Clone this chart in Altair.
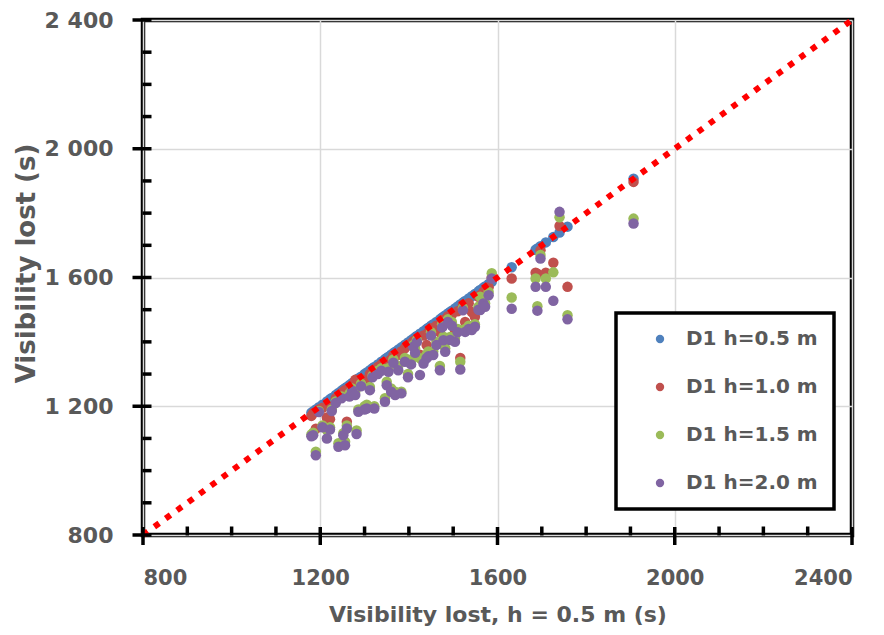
import altair as alt
import pandas as pd

# x: visibility lost at h = 0.5 m (s); also the y of series "D1 h=0.5 m"
x_h05 = [1180, 1184, 1190, 1197, 1205, 1215, 1222, 1226, 1235, 1241, 1248, 1252, 1256, 1260,
         1266, 1272, 1279, 1282, 1286, 1292, 1300, 1305, 1312, 1318, 1322, 1330, 1338, 1346,
         1350, 1354, 1360, 1365, 1369, 1376, 1383, 1391, 1398, 1405, 1410, 1414, 1418, 1425,
         1433, 1440, 1444, 1450, 1455, 1462, 1470, 1475, 1478, 1482, 1488, 1493, 1497, 1504,
         1510, 1516, 1522, 1527, 1535, 1542, 1549, 1557, 1561, 1568, 1572, 1580, 1587, 1632,
         1686, 1690, 1697, 1709, 1726, 1740, 1758, 1907]
y_h10 = [1170, 1178, 1130, 1190, 1195, 1165, 1160, 1197, 1225, 1232, 1240, 1245, 1250, 1152,
         1258, 1265, 1282, 1270, 1280, 1285, 1280, 1271, 1300, 1310, 1310, 1322, 1330, 1330,
         1322, 1340, 1345, 1358, 1355, 1360, 1370, 1380, 1390, 1395, 1402, 1400, 1410, 1360,
         1420, 1390, 1430, 1442, 1440, 1450, 1430, 1468, 1465, 1470, 1480, 1480, 1485, 1437,
         1495, 1350, 1515, 1462, 1520, 1493, 1478, 1540, 1545, 1555, 1560, 1570, 1600, 1597,
         1615, 1612, 1685, 1615, 1646, 1760, 1571, 1897]
y_h15 = [1112, 1118, 1059, 1185, 1140, 1126, 1135, 1190, 1215, 1085, 1230, 1116, 1090, 1140,
         1240, 1255, 1246, 1125, 1190, 1270, 1200, 1205, 1260, 1295, 1200, 1310, 1318, 1225,
         1276, 1318, 1255, 1345, 1245, 1325, 1245, 1350, 1300, 1345, 1390, 1380, 1405, 1349,
         1345, 1360, 1370, 1430, 1370, 1400, 1325, 1455, 1416, 1380, 1470, 1415, 1462, 1410,
         1440, 1338, 1505, 1440, 1450, 1445, 1455, 1509, 1540, 1525, 1520, 1555, 1613, 1538,
         1597, 1511, 1670, 1597, 1616, 1787, 1483, 1783]
y_h20 = [1107, 1110, 1048, 1182, 1135, 1100, 1128, 1185, 1210, 1074, 1225, 1110, 1079, 1131,
         1230, 1248, 1235, 1114, 1183, 1262, 1190, 1193, 1250, 1290, 1193, 1300, 1310, 1214,
         1265, 1307, 1245, 1335, 1235, 1312, 1240, 1338, 1290, 1330, 1385, 1366, 1400, 1297,
         1333, 1349, 1355, 1420, 1359, 1390, 1312, 1445, 1405, 1369, 1462, 1406, 1450, 1400,
         1430, 1314, 1498, 1431, 1440, 1437, 1447, 1500, 1499, 1519, 1509, 1545, 1597, 1503,
         1571, 1497, 1659, 1571, 1528, 1804, 1470, 1768]

series_names = ["D1 h=0.5 m", "D1 h=1.0 m", "D1 h=1.5 m", "D1 h=2.0 m"]
series_colors = ["#4F81BD", "#C0504D", "#9BBB59", "#8064A2"]

major_ticks = [800, 1200, 1600, 2000, 2400]
minor_ticks = [900, 1000, 1100, 1300, 1400, 1500, 1700, 1800, 1900, 2100, 2200, 2300]
diag_values = [800, 2400]

X_TITLE = "Visibility lost, h = 0.5 m (s)"
Y_TITLE = "Visibility lost (s)"
FONT = "DejaVu Sans"
TXT = "#595959"

rows = []
for name, ys in zip(series_names, [x_h05, y_h10, y_h15, y_h20]):
    for xv, yv in zip(x_h05, ys):
        rows.append({"x": xv, "y": yv, "series": name})
pts_df = pd.DataFrame(rows)

xscale = alt.Scale(domain=[800, 2400], nice=False, zero=False)
yscale = alt.Scale(domain=[800, 2400], nice=False, zero=False)

xaxis = alt.Axis(values=major_ticks, format="d", ticks=False, domain=False, grid=True,
                 gridColor="#D9D9D9", gridWidth=1.5, labelFont=FONT, labelFontSize=21,
                 labelFontWeight="bold", labelColor=TXT, labelPadding=32,
                 titleFont=FONT, titleFontSize=22, titleFontWeight="bold", titleColor=TXT,
                 titlePadding=16)
yaxis = alt.Axis(values=major_ticks, ticks=False, domain=False, grid=True,
                 gridColor="#D9D9D9", gridWidth=1.5, labelFont=FONT, labelFontSize=22,
                 labelFontWeight="bold", labelColor=TXT, labelPadding=30,
                 labelExpr="replace(format(datum.value, ','), ',', ' ')",
                 titleFont=FONT, titleFontSize=26, titleFontWeight="bold", titleColor=TXT,
                 titlePadding=5, titleY=243)


def X(field="x"):
    return alt.X(f"{field}:Q", scale=xscale, axis=xaxis, title=X_TITLE)


def Y(field="y"):
    return alt.Y(f"{field}:Q", scale=yscale, axis=yaxis, title=Y_TITLE)


points = alt.Chart(pts_df).mark_circle(size=110, opacity=1).encode(
    x=X(), y=Y(),
    color=alt.Color("series:N", scale=alt.Scale(domain=series_names, range=series_colors),
                    sort=series_names,
                    legend=alt.Legend(title=None, orient="none", legendX=473, legendY=293,
                                      fillColor="white", strokeColor="black",
                                      padding=16, symbolType="circle", symbolSize=70,
                                      symbolOffset=18, labelOffset=16, rowPadding=28,
                                      labelFont=FONT, labelFontSize=20,
                                      labelFontWeight="bold", labelColor=TXT)),
)

diag = alt.Chart(pd.DataFrame({"x": diag_values, "y": diag_values})).mark_line(
    color="#FF0000", strokeWidth=6, strokeDash=[6, 8], strokeCap="butt").encode(x=X(), y=Y())

xmaj = alt.Chart(pd.DataFrame({"x": major_ticks})).mark_tick(
    orient="vertical", size=18, thickness=3.5, color="black", opacity=1, yOffset=1).encode(
    x=X(), y=alt.datum(800, scale=yscale))
xmin = alt.Chart(pd.DataFrame({"x": minor_ticks})).mark_tick(
    orient="vertical", size=9, thickness=3.5, color="black", opacity=1, yOffset=-4).encode(
    x=X(), y=alt.datum(800, scale=yscale))
ymaj = alt.Chart(pd.DataFrame({"y": major_ticks})).mark_tick(
    orient="horizontal", size=19, thickness=3.5, color="black", opacity=1, xOffset=-1).encode(
    y=Y(), x=alt.datum(800, scale=xscale))
ymin = alt.Chart(pd.DataFrame({"y": minor_ticks})).mark_tick(
    orient="horizontal", size=9, thickness=3.5, color="black", opacity=1, xOffset=4).encode(
    y=Y(), x=alt.datum(800, scale=xscale))

chart = alt.layer(points, diag, xmaj, xmin, ymaj, ymin).properties(
    width=709, height=515,
    autosize=alt.AutoSizeParams(type="none"),
    padding={"left": 143, "top": 20, "right": 32, "bottom": 100},
).configure_view(stroke="black", strokeWidth=4.5).configure_legend(strokeWidth=3.5)

chart.save("out.html", embed_options={"renderer": "svg", "actions": False})
